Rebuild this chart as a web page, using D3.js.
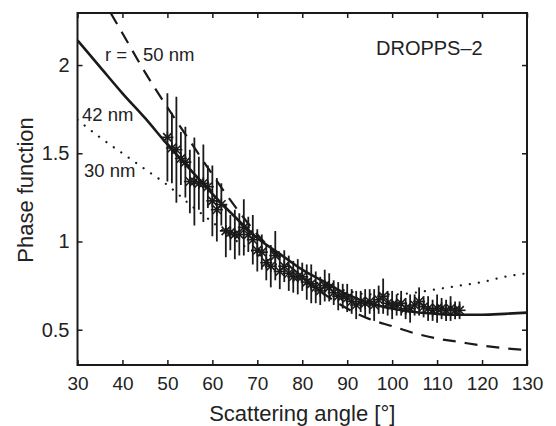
<!DOCTYPE html>
<html>
<head>
<meta charset="utf-8">
<script src="https://cdn.jsdelivr.net/npm/d3@7"></script>
<style>
  body { margin: 0; background: #fff; }
  svg text { font-family: "Liberation Sans", Arial, sans-serif; fill: #222; }
</style>
</head>
<body>
<script>
// measured phase function (DROPPS-2): angle, value, error half-width
var angles = [50,51,52,53,54,55,56,57,58,59,60,61,62,63,64,65,66,67,68,69,70,71,72,73,74,75,76,77,78,79,80,81,82,83,84,85,86,87,88,89,90,91,92,93,94,95,96,97,98,99,100,101,102,103,104,105,106,107,108,109,110,111,112,113,114,115];
var phase = [1.59,1.53,1.52,1.47,1.45,1.34,1.34,1.33,1.33,1.31,1.23,1.18,1.21,1.06,1.05,1.04,1.04,1.08,1.04,1.01,0.95,0.94,0.88,0.86,0.92,0.83,0.86,0.82,0.80,0.80,0.80,0.77,0.76,0.74,0.72,0.75,0.74,0.71,0.69,0.69,0.68,0.66,0.64,0.66,0.65,0.66,0.64,0.67,0.69,0.65,0.64,0.64,0.65,0.62,0.62,0.64,0.66,0.63,0.62,0.61,0.62,0.62,0.61,0.62,0.61,0.61];
var errs = [0.25,0.20,0.30,0.15,0.20,0.18,0.25,0.15,0.22,0.12,0.20,0.18,0.12,0.15,0.10,0.14,0.12,0.16,0.10,0.14,0.12,0.10,0.10,0.12,0.14,0.10,0.09,0.10,0.09,0.10,0.08,0.10,0.11,0.09,0.08,0.09,0.08,0.07,0.08,0.07,0.08,0.07,0.08,0.06,0.08,0.07,0.09,0.08,0.10,0.07,0.08,0.06,0.07,0.06,0.08,0.06,0.08,0.06,0.07,0.06,0.08,0.06,0.06,0.07,0.05,0.05];

// model curves for particle radius r
var curveAngles = [30,35,40,45,50,55,60,65,70,75,80,85,90,95,100,105,110,115,120,125,130];
var r42 = [2.14,1.99,1.84,1.70,1.55,1.41,1.27,1.14,1.02,0.93,0.84,0.77,0.70,0.65,0.62,0.60,0.59,0.585,0.585,0.59,0.597];
var r50 = [2.62,2.40,2.18,1.96,1.76,1.57,1.38,1.20,1.04,0.91,0.80,0.70,0.62,0.56,0.52,0.48,0.45,0.43,0.41,0.395,0.385];
var r30 = [1.69,1.59,1.50,1.41,1.32,1.21,1.11,1.01,0.93,0.86,0.80,0.75,0.72,0.70,0.70,0.71,0.73,0.75,0.77,0.80,0.82];

var xTicks = [30,40,50,60,70,80,90,100,110,120,130];
var yTicks = [0.5,1,1.5,2];

var width = 556, height = 426;
var margin = { top: 13, right: 29, bottom: 61, left: 77.5 };
var iw = width - margin.left - margin.right,
    ih = height - margin.top - margin.bottom;

var svg = d3.select("body").append("svg")
    .attr("width", width)
    .attr("height", height);

var g = svg.append("g")
    .attr("transform", "translate(" + margin.left + "," + margin.top + ")");

var x = d3.scaleLinear().domain([30, 130]).range([0, iw]);
var y = d3.scaleLinear().domain([0.3, 2.295]).range([ih, 0]);

g.append("clipPath").attr("id", "plot")
  .append("rect").attr("width", iw).attr("height", ih);

var ink = "#1a1a1a";

// axes with inward ticks on all four sides
var axBottom = g.append("g").attr("transform", "translate(0," + ih + ")")
    .call(d3.axisBottom(x).tickValues(xTicks).tickSizeInner(-5).tickSizeOuter(0).tickPadding(12));
var axTop = g.append("g")
    .call(d3.axisTop(x).tickValues(xTicks).tickSizeInner(-5).tickSizeOuter(0).tickFormat(""));
var axLeft = g.append("g")
    .call(d3.axisLeft(y).tickValues(yTicks).tickSizeInner(-5).tickSizeOuter(0).tickPadding(8)
        .tickFormat(function (d) { return String(d); }));
var axRight = g.append("g").attr("transform", "translate(" + iw + ",0)")
    .call(d3.axisRight(y).tickValues(yTicks).tickSizeInner(-5).tickSizeOuter(0).tickFormat(""));

[axBottom, axTop, axLeft, axRight].forEach(function (a) {
    a.select(".domain").remove();
    a.selectAll(".tick line").attr("stroke", ink).attr("stroke-width", 1.5);
    a.selectAll("text").attr("font-size", "19px").attr("fill", "#222")
      .attr("font-family", "Liberation Sans, Arial, sans-serif");
});
axLeft.selectAll("text").attr("font-size", "20px");

// model curves
var line = d3.line().x(function (d) { return x(d[0]); }).y(function (d) { return y(d[1]); })
    .curve(d3.curveMonotoneX);
var curves = g.append("g").attr("clip-path", "url(#plot)");

curves.append("path")
    .datum(curveAngles.map(function (a, i) { return [a, r30[i]]; }))
    .attr("d", line).attr("fill", "none").attr("stroke", ink)
    .attr("stroke-width", 2.2).attr("stroke-linecap", "round")
    .attr("stroke-dasharray", "0.1,9");

curves.append("path")
    .datum(curveAngles.map(function (a, i) { return [a, r50[i]]; }))
    .attr("d", line).attr("fill", "none").attr("stroke", ink)
    .attr("stroke-width", 2.2).attr("stroke-dasharray", "13,9");

curves.append("path")
    .datum(curveAngles.map(function (a, i) { return [a, r42[i]]; }))
    .attr("d", line).attr("fill", "none").attr("stroke", ink)
    .attr("stroke-width", 2.6);

// error bars
var pts = angles.map(function (a, i) { return { a: a, v: phase[i], e: errs[i] }; });
curves.selectAll(".err").data(pts).enter().append("line")
    .attr("class", "err")
    .attr("x1", function (d) { return x(d.a); })
    .attr("x2", function (d) { return x(d.a); })
    .attr("y1", function (d) { return y(d.v + d.e); })
    .attr("y2", function (d) { return y(d.v - d.e); })
    .attr("stroke", ink).attr("stroke-width", 1.8);

// asterisk markers
var star = curves.selectAll(".star").data(pts).enter().append("g")
    .attr("class", "star")
    .attr("transform", function (d) { return "translate(" + x(d.a) + "," + y(d.v) + ")"; });
[0, 45, 90, 135].forEach(function (ang) {
    star.append("line")
        .attr("x1", -6).attr("x2", 6).attr("y1", 0).attr("y2", 0)
        .attr("transform", "rotate(" + ang + ")")
        .attr("stroke", ink).attr("stroke-width", 1.6);
});

// frame
g.append("rect").attr("width", iw).attr("height", ih)
    .attr("fill", "none").attr("stroke", ink).attr("stroke-width", 2);

// annotations
g.append("text").attr("x", 376 - margin.left).attr("y", 55 - margin.top)
    .attr("font-size", "20px").text("DROPPS\u20132");
g.append("text").attr("x", 105 - margin.left).attr("y", 61 - margin.top)
    .attr("font-size", "18.5px").text("r =");
g.append("text").attr("x", 143 - margin.left).attr("y", 61 - margin.top)
    .attr("font-size", "18.5px").text("50 nm");
g.append("text").attr("x", 82 - margin.left).attr("y", 121 - margin.top)
    .attr("font-size", "18.5px").text("42 nm");
g.append("text").attr("x", 84 - margin.left).attr("y", 177 - margin.top)
    .attr("font-size", "18.5px").text("30 nm");

// axis titles
svg.append("text").attr("x", margin.left + iw / 2).attr("y", 421)
    .attr("text-anchor", "middle").attr("font-size", "22px").text("Scattering angle [\u00b0]");
svg.append("text").attr("transform", "translate(33,190) rotate(-90)")
    .attr("text-anchor", "middle").attr("font-size", "22px").text("Phase function");
</script>
</body>
</html>
